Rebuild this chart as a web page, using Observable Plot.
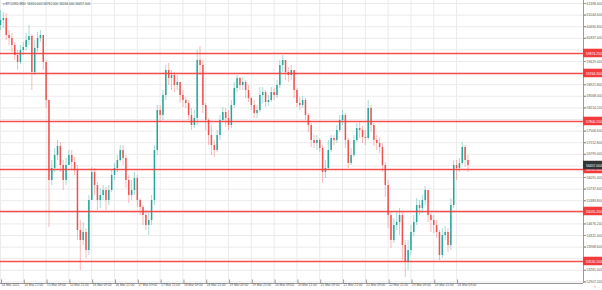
<!DOCTYPE html>
<html><head><meta charset="utf-8">
<script src="https://cdn.jsdelivr.net/npm/d3@7"></script>
<script src="https://cdn.jsdelivr.net/npm/@observablehq/plot@0.6"></script>
<style>body{margin:0;background:#fff}svg{display:block}</style>
</head><body><div id="chart"></div>
<script>
const symbolTitle = "\u25BE BTCUSD,M30  56610.000 56762.000 56244.000 56457.000";
const firstOpen = 60727;
const closes = [60880,60941,60422,60331,60117,59812,59599,59965,60056,60270,
60392,59294,60026,60331,60422,59599,58440,56000,56366,56762,
57037,56457,56000,56457,56762,56549,56305,54475,54170,54414,
53865,55390,56244,55847,55390,55542,55695,55390,55695,56152,
56366,56610,56915,56671,56000,55542,55695,56061,55390,55176,
54932,54627,54780,55390,56915,58135,57982,58592,59355,59111,
59202,58897,58989,58592,58440,58349,57982,57677,57891,59660,
59507,58287,57830,57372,57067,56915,57372,57830,58074,57891,
57677,58287,58806,59111,58897,58989,58745,58501,58287,58044,
58135,58592,58684,58379,58440,58684,58592,58897,59507,59660,
59294,59202,59355,58745,58349,58287,58440,57982,57677,57220,
57129,57220,56976,56244,56366,56915,57281,57220,57525,57830,
57982,57220,56518,56762,57220,57586,57525,57311,57281,58196,
57677,57220,57129,57007,56457,55847,54932,54170,54627,54719,
54932,54017,53499,53865,54414,54719,55237,55146,55390,55695,
54932,54780,54627,54414,53712,54322,54414,54017,55237,56457,
56366,56518,57007,56610,56457];
const highs = [61185,61124,61093,60575,60483,60209,59965,60117,60209,60483,
60727,60453,60270,60514,60575,60422,59660,58135,56610,56976,
57220,57159,56610,56671,56915,56915,56701,56457,54780,54719,
54536,55542,56396,56366,55939,55756,55847,55787,55847,56305,
56518,56762,57067,57067,56762,56152,56000,56244,56152,55451,
55237,55085,55024,55542,57067,58287,58287,58745,59507,59568,
59355,59294,59202,58958,58745,58532,58440,58196,58135,59965,
60087,59660,58349,57891,57677,57220,57525,57982,58226,58196,
58135,58440,58989,59202,59142,59142,59050,58897,58532,58440,
58287,58837,58837,58745,58592,58837,58806,59050,59660,59812,
59599,59446,59507,59355,58806,58532,58562,58501,58044,57739,
57372,57372,57281,57067,56610,57220,57372,57372,57677,57982,
58135,58044,57281,56976,57372,57739,57769,57647,57525,58440,
58287,57739,57372,57311,57129,56549,56000,55024,54841,55024,
55146,55024,54170,54170,54627,54932,55451,55390,55542,55817,
55695,54993,54932,54780,54475,54536,54597,54536,55451,56610,
56610,56671,57159,57067,56762];
const lows = [60575,60636,60270,60117,59904,59660,59355,59538,59812,59965,
60117,58745,59202,59904,60209,59355,58196,54566,55847,56244,
56610,56244,55695,55847,56457,56305,56152,54170,53255,54017,
53621,53712,55390,55542,55085,55146,55390,55085,55237,55634,
56000,56244,56549,56457,55756,55298,55390,55542,55176,54932,
54627,54475,54322,54627,55237,56762,57769,57830,58440,58897,
58745,58684,58745,58349,58226,58196,57830,57525,57586,57677,
59202,58044,57525,57067,56762,56701,56854,57220,57769,57617,
57525,57586,58196,58684,58745,58745,58501,58379,58135,57891,
57891,58074,58349,58226,58257,58379,58440,58501,58806,59294,
59050,58989,59050,58501,58226,58135,58196,57830,57464,57007,
56976,56915,56854,55909,56061,56305,56854,57067,57129,57464,
57677,56976,56366,56457,56701,57159,57281,57129,57067,57220,
57464,57037,56915,56823,56244,55482,54536,53926,54078,54475,
54322,53560,53042,53255,53712,54292,54627,54932,54993,55237,
54719,54414,54383,54231,53560,53621,54170,53804,53865,55146,
56000,56244,56457,56396,56244];
const levels = [59874.25, 59264.30, 57800.15, 56335.40, 55055.20, 53530.10];
const priceTicks = [61398.4,61044.6,60690.8,60337.0,59983.2,59629.4,59275.6,58921.8,58568.0,58214.2,
57860.4,57506.6,57152.8,56799.0,56445.2,56091.4,55737.6,55383.8,55030.0,54676.2,
54322.4,53968.6,53614.8,53261.0,52907.2];
const timeLabels = ["14 Mar 2021","14 Mar 21:00","15 Mar 09:00","15 Mar 21:00","16 Mar 09:00","16 Mar 21:00",
"17 Mar 09:00","17 Mar 21:00","18 Mar 09:00","18 Mar 21:00","19 Mar 09:00","19 Mar 21:00",
"20 Mar 09:00","20 Mar 21:00","21 Mar 09:00","21 Mar 21:00","22 Mar 09:00","22 Mar 21:00",
"23 Mar 09:00","23 Mar 21:00","24 Mar 09:00"];

const H = 3600e3;
const start = Date.UTC(2021, 2, 14, 9, 0);
const barHours = 1.5;
const xEnd = new Date(start + 306.8 * H);
const xLab = new Date(start + 316.8 * H);
const yMin = 52858.5, yMax = 61490;

const rows = closes.map((c, i) => {
  const o = i ? closes[i - 1] : firstOpen;
  return {t: new Date(start + i * barHours * H), o, c,
    h: Math.max(highs[i], o, c), l: Math.min(lows[i], o, c)};
});
const labelDates = timeLabels.map((s, i) => new Date(start + i * 12 * H));
const labelMap = new Map(labelDates.map((d, i) => [+d, timeLabels[i]]));
const UP = "#26a69a", DOWN = "#ef5350", LEVEL = "#f23c3c";
const col = d => d.c >= d.o ? UP : DOWN;
const last = rows[rows.length - 1];
// price labels hidden behind the coloured level / current-price tags
const tagged = [...levels, last.c];
const shownTicks = priceTicks.filter(p => tagged.every(v => Math.abs(v - p) > 125));

const chart = Plot.plot({
  width: 602, height: 290,
  marginLeft: 0, marginRight: 19, marginTop: 0, marginBottom: 7,
  style: {fontFamily: "Liberation Sans", fontSize: "3.4px", background: "#fff"},
  x: {type: "utc", domain: [new Date(start), xEnd]},
  y: {domain: [yMin, yMax]},
  marks: [
    Plot.gridY(priceTicks, {stroke: "#ebebeb", strokeOpacity: 1}),
    Plot.gridX(labelDates, {stroke: "#ebebeb", strokeOpacity: 1}),
    Plot.ruleX(rows, {x: "t", y1: "l", y2: "h", stroke: col, strokeOpacity: 0.4, strokeWidth: 1}),
    Plot.ruleX(rows, {x: "t", y1: "o", y2: "c", stroke: col, strokeWidth: 1.5}),
    Plot.ruleY(levels, {stroke: LEVEL, strokeWidth: 1.4, strokeOpacity: 0.9}),
    Plot.ruleX([xEnd], {stroke: "#9a9a9a"}),
    Plot.ruleY([yMin], {stroke: "#9a9a9a"}),
    Plot.axisY(priceTicks, {anchor: "right", tickSize: 2, text: null, stroke: "#9a9a9a"}),
    Plot.axisY(shownTicks, {anchor: "right", tickSize: 2, tickPadding: 1, stroke: "#9a9a9a",
      tickFormat: d => d.toFixed(3), fill: "#555", fontSize: 3.4}),
    Plot.axisX(labelDates, {anchor: "bottom", tickSize: 4, tickPadding: 0, stroke: "#9a9a9a",
      tickFormat: d => labelMap.get(+d), textAnchor: "start", dx: 1, dy: -3.5, fill: "#555", fontSize: 3.2}),
    Plot.rect(levels, {x1: xEnd, x2: xLab, y1: d => d - 130, y2: d => d + 130, fill: LEVEL}),
    Plot.text(levels, {x: xEnd, y: d => d, text: d => d.toFixed(3), fill: "white", fontSize: 3.4, textAnchor: "start", dx: 2.5}),
    Plot.rect([last], {x1: xEnd, x2: xLab, y1: d => d.c - 130, y2: d => d.c + 130, fill: "#333"}),
    Plot.text([last], {x: xEnd, y: "c", text: d => d.c.toFixed(3), fill: "white", fontSize: 3.4, textAnchor: "start", dx: 2.5}),
    Plot.text([symbolTitle], {frameAnchor: "top-left", dx: 2, dy: 2, fill: "#444", fontSize: 3.2, textAnchor: "start"})
  ]
});
document.getElementById("chart").appendChild(chart);
</script>
</body></html>
